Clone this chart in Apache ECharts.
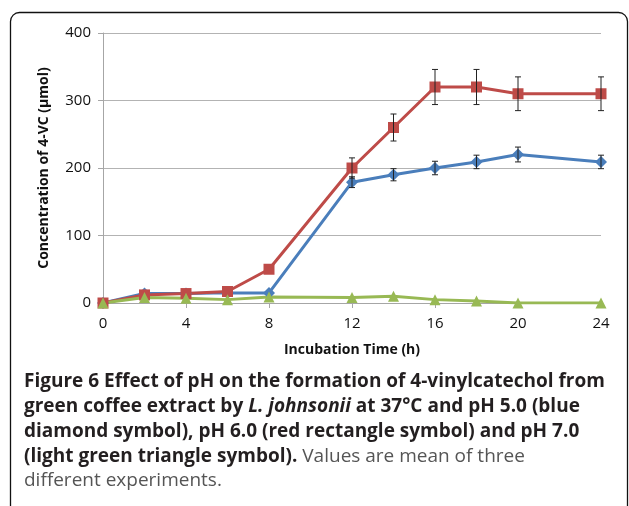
<!DOCTYPE html>
<html>
<head>
<meta charset="utf-8">
<script src="https://cdn.jsdelivr.net/npm/echarts@6/dist/echarts.min.js"></script>
<style>
  html, body { margin: 0; padding: 0; background: #fff; }
  #chart { width: 629px; height: 506px; }
</style>
</head>
<body>
<div id="chart"></div>
<script>
var hours = [0, 2, 4, 6, 8, 12, 14, 16, 18, 20, 24]
var ph5 = [0, 14, 14, 15, 15, 179, 190, 200, 209, 220, 209]
var ph6 = [0, 12, 14, 17, 50, 200, 260, 320, 320, 310, 310]
var ph7 = [0, 8, 7, 5, 9, 8, 10, 5, 3, 0, 0]
var ph5Err = [0, 0, 0, 0, 0, 8, 9, 10, 10, 11, 10]
var ph6Err = [0, 0, 0, 0, 0, 15, 20, 26, 26, 25, 25]
var xTicks = [0, 4, 8, 12, 16, 20, 24]
var yTicks = [0, 100, 200, 300, 400]

var colors = ['#4a7ebb', '#be4b48', '#98b954']
var font = 'Open Sans'

function pairs (ys) {
  return hours.map(function (h, i) { return [h, ys[i]] })
}
function errData (ys, errs) {
  return hours.map(function (h, i) { return [h, ys[i], errs[i]] }).filter(function (d) { return d[2] > 0 })
}

// error bar with caps, drawn through the axes
function renderErr (params, api) {
  var x = api.value(0)
  var y = api.value(1)
  var e = api.value(2)
  var top = api.coord([x, y + e])
  var bot = api.coord([x, y - e])
  var cap = 3
  var st = { stroke: '#222', lineWidth: 1 }
  return {
    type: 'group',
    children: [
      { type: 'line', shape: { x1: top[0], y1: top[1], x2: bot[0], y2: bot[1] }, style: st },
      { type: 'line', shape: { x1: top[0] - cap, y1: top[1], x2: top[0] + cap, y2: top[1] }, style: st },
      { type: 'line', shape: { x1: bot[0] - cap, y1: bot[1], x2: bot[0] + cap, y2: bot[1] }, style: st }
    ]
  }
}

function lineSeries (name, ys, color, symbol, size) {
  return {
    name: name,
    type: 'line',
    data: pairs(ys),
    symbol: symbol,
    symbolSize: size,
    showAllSymbol: true,
    z: 3,
    itemStyle: { color: color },
    lineStyle: { color: color, width: 3 }
  }
}

var captionLines = [
  [['b', 'Figure 6 Effect of pH on the formation of 4-vinylcatechol from']],
  [['b', 'green coffee extract by '], ['bi', 'L. johnsonii'], ['b', ' at 37°C and pH 5.0 (blue']],
  [['b', 'diamond symbol), pH 6.0 (red rectangle symbol) and pH 7.0']],
  [['b', '(light green triangle symbol).'], ['r', ' Values are mean of three']],
  [['r', 'different experiments.']]
]
// baseline of each caption line
var captionY = [388, 413, 438, 463, 487]

var graphics = [{
  type: 'rect',
  shape: { x: 10.5, y: 12.5, width: 617, height: 540, r: 9 },
  style: { fill: 'none', stroke: '#111', lineWidth: 1.3 },
  silent: true
}]
captionLines.forEach(function (parts, i) {
  graphics.push({
    type: 'text',
    left: 24,
    top: captionY[i] - 16,
    style: {
      text: parts.map(function (p) { return '{' + p[0] + '|' + p[1].replace(/[{}|]/g, '') + '}' }).join(''),
      rich: {
        b: { fontFamily: font, fontSize: 19, fontWeight: 'bold', fill: '#231f20' },
        bi: { fontFamily: font, fontSize: 19, fontWeight: 'bold', fontStyle: 'italic', fill: '#231f20' },
        r: { fontFamily: font, fontSize: 19, fill: '#555' }
      }
    }
  })
})

var chart = echarts.init(document.getElementById('chart'))
chart.setOption({
  animation: false,
  textStyle: { fontFamily: font },
  grid: { left: 103, right: 28, top: 33, bottom: 203 },
  xAxis: {
    type: 'value',
    min: 0,
    max: 24,
    interval: 4,
    name: 'Incubation Time (h)',
    nameLocation: 'middle',
    nameGap: 40,
    nameTextStyle: { fontFamily: font, fontSize: 14, fontWeight: 'bold', color: '#111' },
    axisLine: { lineStyle: { color: '#a6a6a6', width: 1 } },
    axisTick: { show: true, length: 5, lineStyle: { color: '#a6a6a6' } },
    axisLabel: {
      fontSize: 15, color: '#111', margin: 13,
      formatter: function (v) { return xTicks.indexOf(v) >= 0 ? String(v) : '' }
    },
    splitLine: { show: false }
  },
  yAxis: {
    type: 'value',
    min: 0,
    max: 400,
    interval: 100,
    name: 'Concentration of 4-VC (µmol)',
    nameLocation: 'middle',
    nameGap: 52,
    nameTextStyle: { fontFamily: font, fontSize: 14, fontWeight: 'bold', color: '#111' },
    axisLine: { show: true, lineStyle: { color: '#a6a6a6', width: 1 } },
    axisTick: { show: true, length: 5, lineStyle: { color: '#a6a6a6' } },
    axisLabel: {
      fontSize: 15, color: '#111', margin: 12,
      formatter: function (v) { return yTicks.indexOf(v) >= 0 ? String(v) : '' }
    },
    splitLine: { lineStyle: { color: '#b3b3b3', width: 1 } }
  },
  graphic: graphics,
  series: [
    lineSeries('pH 5.0', ph5, colors[0], 'diamond', 12),
    lineSeries('pH 6.0', ph6, colors[1], 'rect', 11),
    lineSeries('pH 7.0', ph7, colors[2], 'triangle', 11),
    { type: 'custom', name: 'err5', renderItem: renderErr, data: errData(ph5, ph5Err), z: 4, silent: true },
    { type: 'custom', name: 'err6', renderItem: renderErr, data: errData(ph6, ph6Err), z: 4, silent: true }
  ]
})
</script>
</body>
</html>
